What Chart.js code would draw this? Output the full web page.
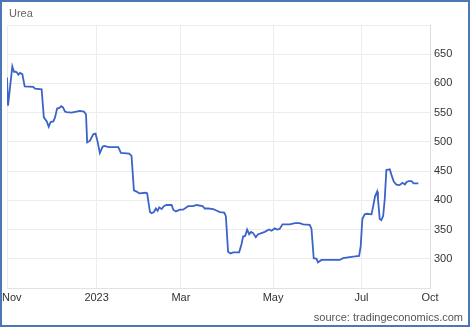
<!DOCTYPE html>
<html lang="en">
<head>
    <meta charset="UTF-8">
    <title>Urea</title>
    <script src="https://cdn.jsdelivr.net/npm/chart.js@4.4.0/dist/chart.umd.min.js"></script>
    <style>
        body {
            margin: 0;
            background-color: #fff;
            font-family: Arial, "Liberation Sans", sans-serif;
        }
        #wrap {
            position: relative;
            width: 470px;
            height: 327px;
        }
        #frame {
            position: absolute;
            left: 0;
            top: 0;
            width: 470px;
            height: 327px;
            box-sizing: border-box;
            border: 2px solid #4d76b4;
            pointer-events: none;
        }
    </style>
</head>
<body>
    <div id="wrap">
        <canvas id="canvas" width="470" height="327"></canvas>
        <div id="frame"></div>
    </div>

    <script>
        // Days counted from 1 Nov 2022 (axis spacing follows the source chart)
        const days = [
            0, 0.7, 3.6, 4.7, 5.9, 6.7, 7.7, 8.8, 10.4, 12, 17.8, 19, 23.5, 25, 27, 28.3, 29.6, 31.4,
            32.5, 34, 35.5, 36.8, 38, 39.3, 40.5, 43.8, 45.4, 49.5, 52.2, 53.6, 54.4, 56.3, 58.5, 60.1,
            61.5, 63, 64.9, 66.4, 68.7, 75.5, 77.3, 82.9, 84.5, 86.1, 87.9, 89.7, 94.2, 95.1, 97, 98.1,
            99.7, 101, 102.2, 103.3, 104.9, 106.4, 108.3, 111.7, 112.8, 114.6, 117.3, 119.5, 122.9, 126.3,
            128.6, 132.7, 134.2, 136.5, 139.9, 141.7, 144.4, 147.4, 148.5, 150, 151.7, 153.4, 157.5, 159.1,
            160.2, 161.6, 162.9, 164.3, 165.6, 167, 168.8, 170.4, 172.7, 174.9, 177.8, 179.4, 181.7, 183.3,
            185, 186.9, 191.9, 195.3, 198.6, 200.9, 205.4, 206.6, 208.1, 210, 211, 213.4, 216.7, 225.8,
            228, 230.3, 232.5, 236, 238.9, 240, 241.1, 242.7, 244.3, 247.3, 248.3, 249.7, 251.1, 251.7,
            252.9, 254, 255.2, 256.3, 257.4, 259.7, 260.8, 262.4, 264.2, 266.4, 268.3, 270, 271, 272.5,
            274.4, 275.9, 279.1
        ];
        const prices = [
            610, 562, 629, 620, 620, 619, 615, 618, 616, 595, 594, 591, 590, 542, 535, 526, 534, 535,
            541, 557, 558, 561, 559, 552, 551, 550, 551, 553, 552, 547, 499, 502, 513, 514,
            500, 481, 492, 493, 491, 491, 481, 480, 476, 417, 415, 412, 413, 412, 380, 378,
            380, 386, 382, 388, 385, 390, 392, 392, 384, 381, 384, 384, 390, 390,
            392, 390, 386, 386, 385, 383, 380, 379, 373, 312, 309, 311, 311, 325,
            338, 339, 350, 342, 346, 344, 337, 342, 344, 346, 350, 348, 352, 350,
            351, 359, 359, 361, 361, 359, 358, 351, 301, 300, 294, 298, 298, 298,
            301, 302, 303, 304, 305, 322, 368, 376, 377, 376, 388, 407, 415, 402,
            368, 366, 373, 402, 452, 453, 444, 432, 427, 426, 430, 427, 431, 433,
            433, 429, 429
        ];

        // X tick labels and where they sit on the day axis
        const xTickLabels = ['Nov', '2023', 'Mar', 'May', 'Jul', 'Oct'];
        const xTickDays = [0, 60.8, 118, 180.5, 240.5, 287];
        const yTickValues = [300, 350, 400, 450, 500, 550, 600, 650];

        const gridColor = '#ececec';
        const fontStr = '11px Arial, "Liberation Sans", sans-serif';
        const tickFont = { family: 'Arial, "Liberation Sans", sans-serif', size: 11 };

        // Title, source text and x labels (kept inside the frame)
        const textPlugin = {
            id: 'texts',
            afterDraw(chart) {
                const c = chart.ctx;
                const xs = chart.scales.x;
                c.save();
                c.font = fontStr;
                c.textBaseline = 'middle';

                c.fillStyle = '#333';
                c.textAlign = 'center';
                xTickDays.forEach((d, i) => {
                    const half = c.measureText(xTickLabels[i]).width / 2;
                    const px = Math.max(xs.getPixelForValue(d), half + 2);
                    c.fillText(xTickLabels[i], px, xs.top + 9.5);
                });

                c.fillStyle = '#666';
                c.textAlign = 'left';
                c.fillText('Urea', 9, 13.5);
                c.fillStyle = '#555';
                c.textAlign = 'right';
                c.fillText('source: tradingeconomics.com', 463, 317.5);
                c.restore();
            }
        };

        new Chart(document.getElementById('canvas').getContext('2d'), {
            type: 'line',
            data: {
                datasets: [{
                    label: 'Urea',
                    data: days.map((d, i) => ({ x: d, y: prices[i] })),
                    borderColor: '#3b64c8',
                    borderWidth: 1.8,
                    pointRadius: 0,
                    tension: 0,
                    fill: false
                }]
            },
            options: {
                responsive: false,
                animation: false,
                layout: { padding: { left: 7, top: 25, right: 0, bottom: 0 } },
                plugins: {
                    legend: { display: false },
                    tooltip: { enabled: false }
                },
                scales: {
                    x: {
                        type: 'linear',
                        min: 0,
                        max: 287,
                        afterBuildTicks(scale) {
                            scale.ticks = xTickDays.map(v => ({ value: v }));
                        },
                        afterFit(scale) {
                            scale.height = 39;
                            scale.paddingLeft = 0;
                            scale.paddingRight = 0;
                        },
                        grid: { color: gridColor, drawTicks: false },
                        border: { color: '#e2e2e2' },
                        ticks: { display: false }
                    },
                    y: {
                        position: 'right',
                        min: 250,
                        max: 700,
                        afterBuildTicks(scale) {
                            scale.ticks = [250].concat(yTickValues, [700]).map(v => ({ value: v }));
                        },
                        afterFit(scale) {
                            scale.width = 40;
                            scale.paddingTop = 0;
                            scale.paddingBottom = 0;
                        },
                        grid: { color: gridColor, drawTicks: false },
                        border: { color: '#dcdcdc' },
                        ticks: {
                            padding: 4,
                            color: '#333',
                            font: tickFont,
                            callback(value) {
                                return yTickValues.includes(value) ? String(value) : '';
                            }
                        }
                    }
                }
            },
            plugins: [textPlugin]
        });
    </script>
</body>
</html>
